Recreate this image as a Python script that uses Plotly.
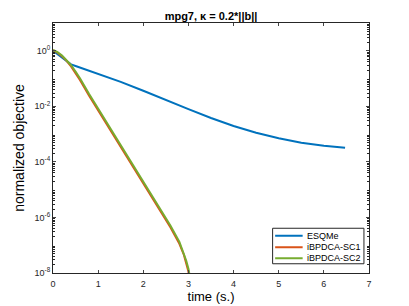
import plotly.graph_objects as go

# data (log10 of normalized objective)
t_esqme = [0, 0.1, 0.2, 0.3, 0.4, 0.5, 0.75, 1.0, 1.5, 2.0, 2.5, 3.0, 3.5, 4.0, 4.5, 5.0, 5.5, 6.0, 6.47]
log_esqme = [0, -0.13, -0.26, -0.39, -0.49, -0.55, -0.69, -0.83, -1.12, -1.44, -1.78, -2.10, -2.42, -2.71, -2.95, -3.15, -3.31, -3.42, -3.49]

t_sc1 = [0, 0.1, 0.2, 0.3, 0.4, 0.5, 0.6, 0.8, 1.0, 1.4, 1.8, 2.2, 2.6, 2.8, 2.9, 2.95, 3.0, 3.02]
log_sc1 = [0.02, -0.07, -0.2, -0.36, -0.56, -0.8, -1.06, -1.62, -2.15, -3.2, -4.25, -5.3, -6.35, -6.95, -7.35, -7.65, -7.95, -8.3]

t_sc2 = [0, 0.1, 0.2, 0.3, 0.4, 0.5, 0.6, 0.8, 1.0, 1.4, 1.8, 2.2, 2.6, 2.8, 2.9, 2.95, 3.0, 3.05]
log_sc2 = [0.03, -0.05, -0.17, -0.33, -0.52, -0.75, -1.0, -1.56, -2.09, -3.14, -4.19, -5.24, -6.29, -6.88, -7.28, -7.55, -7.85, -8.3]

series_names = ["ESQMe", "iBPDCA-SC1", "iBPDCA-SC2"]
series_colors = ["#0072BD", "#D95319", "#77AC30"]

ytick_exp = [-8, -6, -4, -2, 0]
xtick_vals = [0, 1, 2, 3, 4, 5, 6, 7]

def pw(v):
    return [10 ** x for x in v]

minor_vals = [m * 10 ** k for k in range(-8, 1) for m in range(2, 10)]

fig = go.Figure()
for (tx, ly), nm, col in zip([(t_esqme, log_esqme), (t_sc1, log_sc1), (t_sc2, log_sc2)],
                             series_names, series_colors):
    fig.add_trace(go.Scatter(x=tx, y=pw(ly), mode="lines", name=nm,
                             line=dict(color=col, width=2), showlegend=False))

axcol = "#262626"

# custom compact legend (MATLAB style)
shapes = [dict(type="rect", xref="paper", yref="paper", x0=0.695, x1=0.984, y0=0.037, y1=0.179,
               line=dict(color=axcol, width=1), fillcolor="white", layer="above")]
annotations = []
entry_y = [0.149, 0.103, 0.059]
for nm, col, yy in zip(series_names, series_colors, entry_y):
    shapes.append(dict(type="line", xref="paper", yref="paper", x0=0.703, x1=0.790, y0=yy, y1=yy,
                       line=dict(color=col, width=2), layer="above"))
    annotations.append(dict(text=nm, xref="paper", yref="paper", x=0.797, y=yy, xanchor="left",
                            yanchor="middle", showarrow=False, font=dict(size=9, color="black")))

fig.update_layout(
    width=401, height=298,
    margin=dict(l=45, r=40, t=15, b=33),
    paper_bgcolor="white", plot_bgcolor="white",
    font=dict(family="Liberation Sans, Arial, sans-serif", color=axcol, size=9),
    title=dict(text="<b>mpg7, κ = 0.2*||b||</b>", x=0.5, xanchor="center",
               xref="paper", y=1, yref="paper", yanchor="bottom", pad=dict(b=3),
               font=dict(size=11, color="black")),
    showlegend=False,
    shapes=shapes, annotations=annotations,
)
fig.update_xaxes(range=[0, 7], tickvals=xtick_vals, ticks="inside", ticklen=3,
                 showline=True, linecolor=axcol, linewidth=1, mirror="ticks",
                 showgrid=False, zeroline=False, automargin=False, ticklabelstandoff=2,
                 title=dict(text="time (s.)", font=dict(size=13, color="black"), standoff=3),
                 tickfont=dict(size=9, color=axcol))
fig.update_yaxes(type="log", range=[-8, 1],
                 tickvals=pw(ytick_exp),
                 ticktext=[f"10<sup>{e}</sup>" for e in ytick_exp],
                 ticks="inside", ticklen=3,
                 minor=dict(ticks="inside", ticklen=2, tickcolor=axcol, showgrid=False,
                            tickmode="array", tickvals=minor_vals),
                 showline=True, linecolor=axcol, linewidth=1, mirror="ticks",
                 showgrid=False, zeroline=False, automargin=False,
                 title=dict(text="normalized objective", font=dict(size=14, color="black"), standoff=6),
                 tickfont=dict(size=9, color=axcol))

fig.write_html("out.html")
